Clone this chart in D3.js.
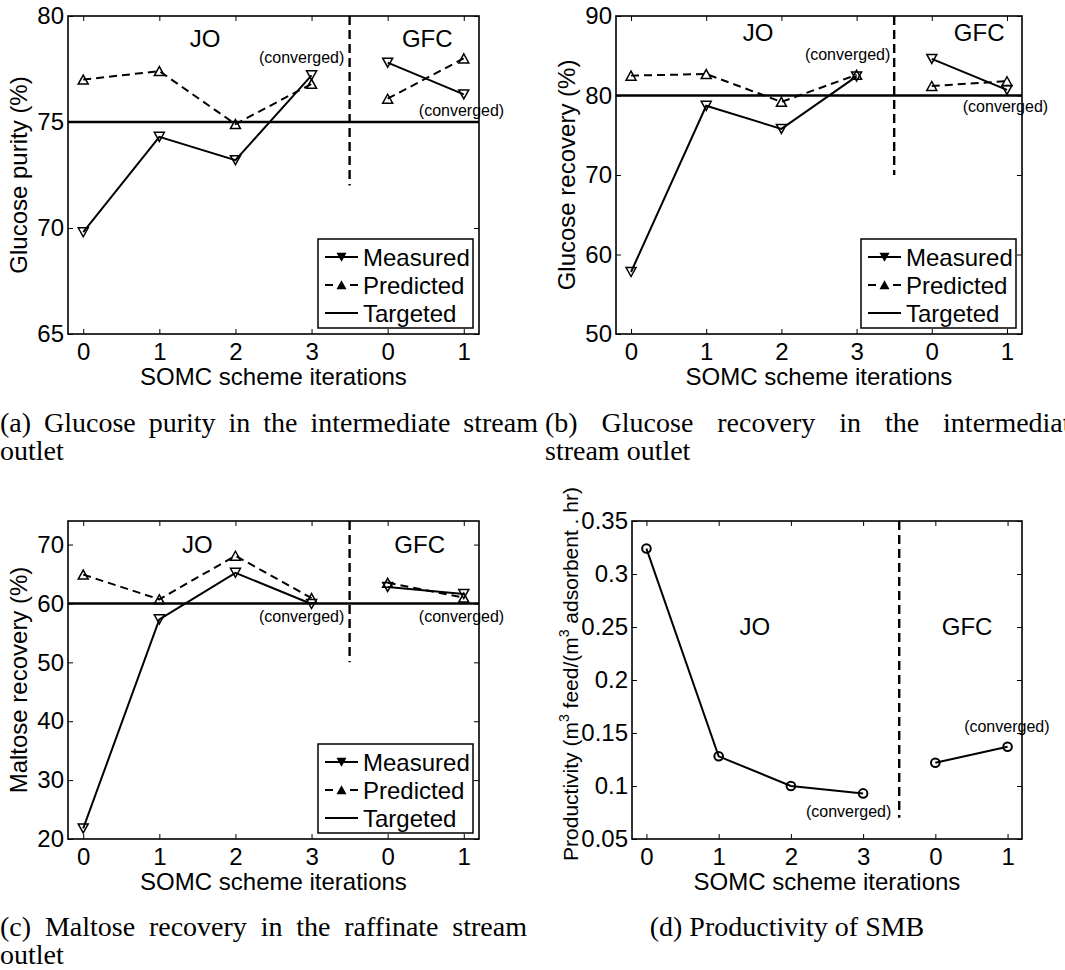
<!DOCTYPE html>
<html>
<head>
<meta charset="utf-8">
<script src="https://cdn.jsdelivr.net/npm/d3@7"></script>
<style>
  body { margin: 0; background: #fff; }
  svg { display: block; }
</style>
</head>
<body>
<svg id="fig" width="1065" height="970"></svg>
<script>
// x positions: 4 JO iterations then 2 GFC iterations
const iterations = [0, 1, 2, 3, 4, 5];
const iterLabels = ["0", "1", "2", "3", "0", "1"];
const runs = [[0, 1, 2, 3], [4, 5]];

// (a) glucose purity, intermediate stream (%)
const purityMeasured  = [69.8, 74.3, 73.2, 77.2, 77.8, 76.3];
const purityPredicted = [77.0, 77.4, 74.9, 76.8, 76.1, 78.0];
const purityTarget = 75;

// (b) glucose recovery, intermediate stream (%)
const recoveryMeasured  = [57.8, 78.7, 75.8, 82.4, 84.6, 80.7];
const recoveryPredicted = [82.5, 82.7, 79.2, 82.6, 81.2, 81.8];
const recoveryTarget = 80;

// (c) maltose recovery, raffinate (%)
const maltoseMeasured  = [21.8, 57.3, 65.2, 59.9, 62.8, 61.6];
const maltosePredicted = [64.9, 60.7, 68.1, 60.9, 63.5, 61.0];
const maltoseTarget = 60;

// (d) productivity
const productivity = [0.324, 0.128, 0.100, 0.093, 0.122, 0.137];

const legendNames = ["Measured", "Predicted", "Targeted"];

const captionA = ["(a) Glucose purity in the intermediate stream", "outlet"];
const captionB = ["(b) Glucose recovery in the intermediate", "stream outlet"];
const captionC = ["(c) Maltose recovery in the raffinate stream", "outlet"];
const captionD = ["(d) Productivity of SMB"];

const SANS = "'Liberation Sans', Arial, Helvetica, sans-serif";
const SERIF = "'Liberation Serif', 'Times New Roman', serif";

const svg = d3.select("#fig");

const panels = [
    { frame: { x: 68, y: 16, w: 411, h: 318 }, yDomain: [65, 80], yTicks: [65, 70, 75, 80],
      yLabel: "Glucose purity (%)", measured: purityMeasured, predicted: purityPredicted,
      target: purityTarget, sepTo: 72, jo: [1.60, 78.54], gfc: [4.52, 78.54],
      conv: [[2.87, 77.78], [4.97, 75.28]] },
    { frame: { x: 616, y: 16, w: 406, h: 318 }, yDomain: [50, 90], yTicks: [50, 60, 70, 80, 90],
      yLabel: "Glucose recovery (%)", measured: recoveryMeasured, predicted: recoveryPredicted,
      target: recoveryTarget, sepTo: 70, jo: [1.69, 86.86], gfc: [4.63, 86.86],
      conv: [[2.88, 84.47], [4.98, 77.92]] },
    { frame: { x: 68, y: 521, w: 411, h: 318 }, yDomain: [20, 74], yTicks: [20, 30, 40, 50, 60, 70],
      yLabel: "Maltose recovery (%)", measured: maltoseMeasured, predicted: maltosePredicted,
      target: maltoseTarget, sepTo: 50, jo: [1.50, 68.57], gfc: [4.42, 68.57],
      conv: [[2.87, 56.8], [4.97, 56.8]] },
    { frame: { x: 632, y: 521, w: 390, h: 318 }, yDomain: [0.05, 0.35],
      yTicks: [0.05, 0.1, 0.15, 0.2, 0.25, 0.3, 0.35],
      yLabel: null, productivity: productivity, sepTo: 0.07, jo: [1.50, 0.2423], gfc: [4.44, 0.2423],
      conv: [[2.80, 0.0707], [4.99, 0.1509]] }
];

const triDown = "M-5,-4.5L5,-4.5L0,4.5Z";
const triUp = "M-5,4.5L5,4.5L0,-4.5Z";

function drawPanel(p) {
    const w = p.frame.w, h = p.frame.h;
    const g = svg.append("g").attr("transform", `translate(${p.frame.x},${p.frame.y})`);
    const x = d3.scaleLinear().domain([-0.2, 5.2]).range([0, w]);
    const y = d3.scaleLinear().domain(p.yDomain).range([h, 0]);
    const fmt = d => String(+d.toFixed(2));

    // axes, MATLAB style inward ticks on all four sides
    const ax = [
        g.append("g").attr("transform", `translate(0,${h})`)
            .call(d3.axisBottom(x).tickValues(iterations).tickFormat((d, i) => iterLabels[i]).tickSize(-5).tickPadding(9)),
        g.append("g")
            .call(d3.axisTop(x).tickValues(iterations).tickFormat("").tickSize(-5)),
        g.append("g")
            .call(d3.axisLeft(y).tickValues(p.yTicks).tickFormat(fmt).tickSize(-5).tickPadding(4)),
        g.append("g").attr("transform", `translate(${w},0)`)
            .call(d3.axisRight(y).tickValues(p.yTicks).tickFormat("").tickSize(-5))
    ];
    ax.forEach(a => {
        a.select(".domain").remove();
        a.attr("font-size", 24).attr("font-family", SANS);
        a.selectAll("line").attr("stroke", "#000").attr("stroke-width", 1);
        a.selectAll("text").attr("fill", "#000");
    });

    g.append("rect").attr("width", w).attr("height", h)
        .attr("fill", "none").attr("stroke", "#000").attr("stroke-width", 1.6);

    // separator between JO and GFC
    g.append("line")
        .attr("x1", x(3.5)).attr("x2", x(3.5))
        .attr("y1", 0).attr("y2", y(p.sepTo))
        .attr("stroke", "#000").attr("stroke-width", 2.4).attr("stroke-dasharray", "9,5");

    const line = d3.line().x(d => x(d[0])).y(d => y(d[1]));

    if (p.productivity) {
        runs.forEach(r => {
            const pts = r.map(i => [iterations[i], p.productivity[i]]);
            g.append("path").attr("d", line(pts)).attr("fill", "none")
                .attr("stroke", "#000").attr("stroke-width", 2);
        });
        g.selectAll("circle.pt").data(iterations).join("circle")
            .attr("cx", i => x(i)).attr("cy", i => y(p.productivity[i])).attr("r", 4.3)
            .attr("fill", "none").attr("stroke", "#000").attr("stroke-width", 2);
    } else {
        g.append("line").attr("x1", 0).attr("x2", w)
            .attr("y1", y(p.target)).attr("y2", y(p.target))
            .attr("stroke", "#000").attr("stroke-width", 2.4);
        runs.forEach(r => {
            g.append("path").attr("d", line(r.map(i => [iterations[i], p.predicted[i]])))
                .attr("fill", "none").attr("stroke", "#000").attr("stroke-width", 2)
                .attr("stroke-dasharray", "8,5");
            g.append("path").attr("d", line(r.map(i => [iterations[i], p.measured[i]])))
                .attr("fill", "none").attr("stroke", "#000").attr("stroke-width", 2);
        });
        g.selectAll("path.pred").data(iterations).join("path").attr("class", "pred")
            .attr("d", triUp).attr("transform", i => `translate(${x(i)},${y(p.predicted[i])})`)
            .attr("fill", "none").attr("stroke", "#000").attr("stroke-width", 1.5);
        g.selectAll("path.meas").data(iterations).join("path").attr("class", "meas")
            .attr("d", triDown).attr("transform", i => `translate(${x(i)},${y(p.measured[i])})`)
            .attr("fill", "none").attr("stroke", "#000").attr("stroke-width", 1.5);

        // legend
        const lg = g.append("g").attr("transform", `translate(${w - 161},${h - 95})`);
        lg.append("rect").attr("width", 155).attr("height", 89)
            .attr("fill", "#fff").attr("stroke", "#000").attr("stroke-width", 1.5);
        legendNames.forEach((name, i) => {
            const cy = 18 + i * 28;
            const ln = lg.append("line").attr("x1", 7).attr("x2", 40).attr("y1", cy).attr("y2", cy)
                .attr("stroke", "#000").attr("stroke-width", 2);
            if (i === 1) ln.attr("stroke-dasharray", "8,17,8");
            if (i < 2) {
                lg.append("path").attr("d", i === 0 ? triDown : triUp)
                    .attr("transform", `translate(23.5,${cy}) scale(0.8)`)
                    .attr("fill", "#000").attr("stroke", "#000").attr("stroke-width", 1.5);
            }
            lg.append("text").attr("x", 45).attr("y", cy + 8.5).text(name)
                .attr("font-family", SANS).attr("font-size", 24);
        });
    }

    // JO / GFC annotations
    [["JO", p.jo], ["GFC", p.gfc]].forEach(([t, pos]) => {
        g.append("text").attr("x", x(pos[0])).attr("y", y(pos[1])).text(t)
            .attr("text-anchor", "middle").attr("font-family", SANS).attr("font-size", 24);
    });
    p.conv.forEach(pos => {
        g.append("text").attr("x", x(pos[0])).attr("y", y(pos[1])).text("(converged)")
            .attr("text-anchor", "middle").attr("font-family", SANS).attr("font-size", 16);
    });

    // x label
    g.append("text").attr("x", w / 2).attr("y", h + 51).text("SOMC scheme iterations")
        .attr("text-anchor", "middle").attr("font-family", SANS).attr("font-size", 24);

    // y label
    if (p.yLabel) {
        g.append("text").attr("transform", `translate(-41,${h / 2}) rotate(-90)`)
            .attr("text-anchor", "middle").attr("font-family", SANS).attr("font-size", 24)
            .text(p.yLabel);
    } else {
        const t = g.append("text").attr("transform", `translate(-54,${h / 2 - 6}) rotate(-90)`)
            .attr("text-anchor", "middle").attr("font-family", SANS).attr("font-size", 21);
        t.append("tspan").text("Productivity (m");
        t.append("tspan").attr("font-size", 14).attr("dy", -9).text("3");
        t.append("tspan").attr("dy", 9).text(" feed/(m");
        t.append("tspan").attr("font-size", 14).attr("dy", -9).text("3");
        t.append("tspan").attr("dy", 9).text(" adsorbent . hr)");
    }
}

panels.forEach(drawPanel);

// captions (justified first lines like the LaTeX subcaptions)
function caption(lines, x0, y0, width, centered) {
    lines.forEach((s, i) => {
        const t = svg.append("text").attr("x", x0).attr("y", y0 + i * 28)
            .attr("font-family", SERIF).attr("font-size", 28).text(s);
        if (centered) {
            t.attr("text-anchor", "middle");
        } else if (i === 0 && lines.length > 1) {
            const natural = t.node().getComputedTextLength();
            const gaps = s.split(" ").length - 1;
            t.attr("word-spacing", Math.max(0, (width - natural) / gaps));
        }
    });
}
caption(captionA, 0, 432, 538);
caption(captionB, 545, 432, 538);
caption(captionC, 0, 936, 527);
caption(captionD, 787, 936, 0, true);
</script>
</body>
</html>
